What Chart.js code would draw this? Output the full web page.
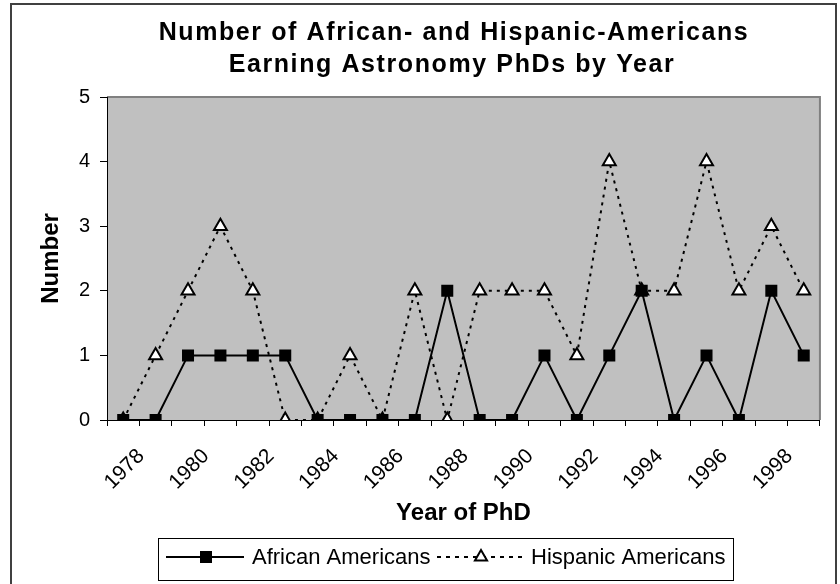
<!DOCTYPE html>
<html>
<head>
<meta charset="utf-8">
<script src="https://cdn.jsdelivr.net/npm/chart.js@4/dist/chart.umd.min.js"></script>
<style>
html,body{margin:0;padding:0;background:#fff;}
#wrap{width:840px;height:584px;}
</style>
</head>
<body>
<div id="wrap"><canvas id="c" width="840" height="584"></canvas></div>
<script>
// ---- data ----
const years = ['1978','1979','1980','1981','1982','1983','1984','1985','1986','1987','1988',
               '1989','1990','1991','1992','1993','1994','1995','1996','1997','1998','1999'];
const africanAmericans  = [0,0,1,1,1,1,0,0,0,0,2,0,0,1,0,1,2,0,1,0,2,1];
const hispanicAmericans = [0,1,2,3,2,0,0,1,0,2,0,2,2,2,1,4,2,2,4,2,3,2];
const xTickLabels = ['1978','1980','1982','1984','1986','1988','1990','1992','1994','1996','1998'];
const yMin = 0, yMax = 5, yStep = 1;
const titleLines = ['Number of African- and Hispanic-Americans', 'Earning Astronomy PhDs by Year'];
const seriesNames = ['African Americans', 'Hispanic Americans'];
const xTitle = 'Year of PhD';
const yTitle = 'Number';

const FONT = '"Liberation Sans", Arial, Helvetica, sans-serif';

const decorPlugin = {
  id: 'decor',
  beforeDraw(chart) {
    const {ctx, chartArea: a} = chart;
    ctx.save();
    ctx.fillStyle = '#ffffff';
    ctx.fillRect(0, 0, chart.width, chart.height);
    ctx.fillStyle = '#c0c0c0';
    ctx.fillRect(a.left, a.top, a.right - a.left, a.bottom - a.top);
    ctx.strokeStyle = '#808080';
    ctx.lineWidth = 2;
    ctx.beginPath();
    ctx.moveTo(a.left, a.top);
    ctx.lineTo(a.right, a.top);
    ctx.lineTo(a.right, a.bottom);
    ctx.stroke();
    ctx.restore();
  },
  afterDraw(chart) {
    const ctx = chart.ctx;
    ctx.save();
    // outer border
    ctx.strokeStyle = '#404040';
    ctx.lineWidth = 2;
    ctx.strokeRect(11, 4, 825, 620);
    // title
    ctx.fillStyle = '#000';
    ctx.font = 'bold 25px ' + FONT;
    ctx.textAlign = 'center';
    ctx.textBaseline = 'alphabetic';
    try { ctx.letterSpacing = '1.6px'; } catch (e) {}
    ctx.fillText(titleLines[0], 454, 40);
    ctx.fillText(titleLines[1], 452, 72);
    try { ctx.letterSpacing = '0px'; } catch (e) {}
    // legend
    ctx.strokeStyle = '#000';
    ctx.lineWidth = 1;
    ctx.strokeRect(158.5, 538.5, 575, 42);
    const ly = 557;
    // African sample
    ctx.lineWidth = 2;
    ctx.beginPath();
    ctx.moveTo(166, ly); ctx.lineTo(244, ly); ctx.stroke();
    ctx.fillStyle = '#000';
    ctx.fillRect(200, ly - 6, 12, 12);
    // Hispanic sample
    ctx.setLineDash([4, 5]);
    ctx.beginPath();
    ctx.moveTo(437, ly); ctx.lineTo(522, ly); ctx.stroke();
    ctx.setLineDash([]);
    ctx.beginPath();
    const tx = 481, r = 7;
    ctx.moveTo(tx, ly - r);
    ctx.lineTo(tx + r * Math.sin(2 * Math.PI / 3), ly - r * Math.cos(2 * Math.PI / 3));
    ctx.lineTo(tx + r * Math.sin(4 * Math.PI / 3), ly - r * Math.cos(4 * Math.PI / 3));
    ctx.closePath();
    ctx.fillStyle = '#fff';
    ctx.fill();
    ctx.lineWidth = 2;
    ctx.stroke();
    ctx.fillStyle = '#000';
    ctx.font = '22px ' + FONT;
    ctx.textAlign = 'left';
    ctx.fillText(seriesNames[0], 252, 564);
    ctx.fillText(seriesNames[1], 531, 564);
    ctx.restore();
  }
};

new Chart(document.getElementById('c'), {
  type: 'line',
  data: {
    labels: years,
    datasets: [
      {
        label: seriesNames[0],
        data: africanAmericans,
        borderColor: '#000',
        borderWidth: 2,
        backgroundColor: '#000',
        pointStyle: 'rect',
        pointRadius: 8.5,
        pointBorderWidth: 0,
        pointBackgroundColor: '#000',
        tension: 0,
        fill: false
      },
      {
        label: seriesNames[1],
        data: hispanicAmericans,
        borderColor: '#000',
        borderWidth: 2,
        borderDash: [3, 5],
        pointStyle: 'triangle',
        pointRadius: 7.5,
        pointBorderWidth: 2,
        pointBorderColor: '#000',
        pointBackgroundColor: '#fff',
        tension: 0,
        fill: false
      }
    ]
  },
  options: {
    responsive: false,
    animation: false,
    devicePixelRatio: 1,
    layout: { padding: { top: 97, left: 11, right: 20, bottom: 56 } },
    plugins: {
      legend: { display: false },
      title: { display: false },
      tooltip: { enabled: false }
    },
    scales: {
      x: {
        type: 'category',
        offset: true,
        grid: { display: true, offset: true, drawOnChartArea: false, drawTicks: true, tickLength: 6, color: '#000', lineWidth: 1 },
        border: { display: true, color: '#000', width: 1 },
        ticks: {
          autoSkip: false,
          maxRotation: 45,
          minRotation: 45,
          labelOffset: 18,
          padding: 18,
          color: '#000',
          font: { family: FONT, size: 21 },
          callback: function (value, index) {
            const lab = this.getLabelForValue(value);
            return xTickLabels.includes(lab) ? lab : '';
          }
        },
        title: {
          display: true,
          text: xTitle,
          color: '#000',
          font: { family: FONT, size: 24, weight: 'bold' },
          padding: { top: 0, bottom: 0 }
        },
        afterFit(scale) { scale.height = 108; }
      },
      y: {
        min: yMin,
        max: yMax,
        grid: { display: true, drawOnChartArea: false, drawTicks: true, tickLength: 7, color: '#000', lineWidth: 1 },
        border: { display: true, color: '#000', width: 1 },
        ticks: {
          stepSize: yStep,
          padding: 10,
          color: '#000',
          font: { family: FONT, size: 20 }
        },
        title: {
          display: true,
          text: yTitle,
          color: '#000',
          font: { family: FONT, size: 24, weight: 'bold' },
          padding: { top: 26, bottom: 0 }
        },
        afterFit(scale) { scale.width = 96; }
      }
    }
  },
  plugins: [decorPlugin]
});
</script>
</body>
</html>
